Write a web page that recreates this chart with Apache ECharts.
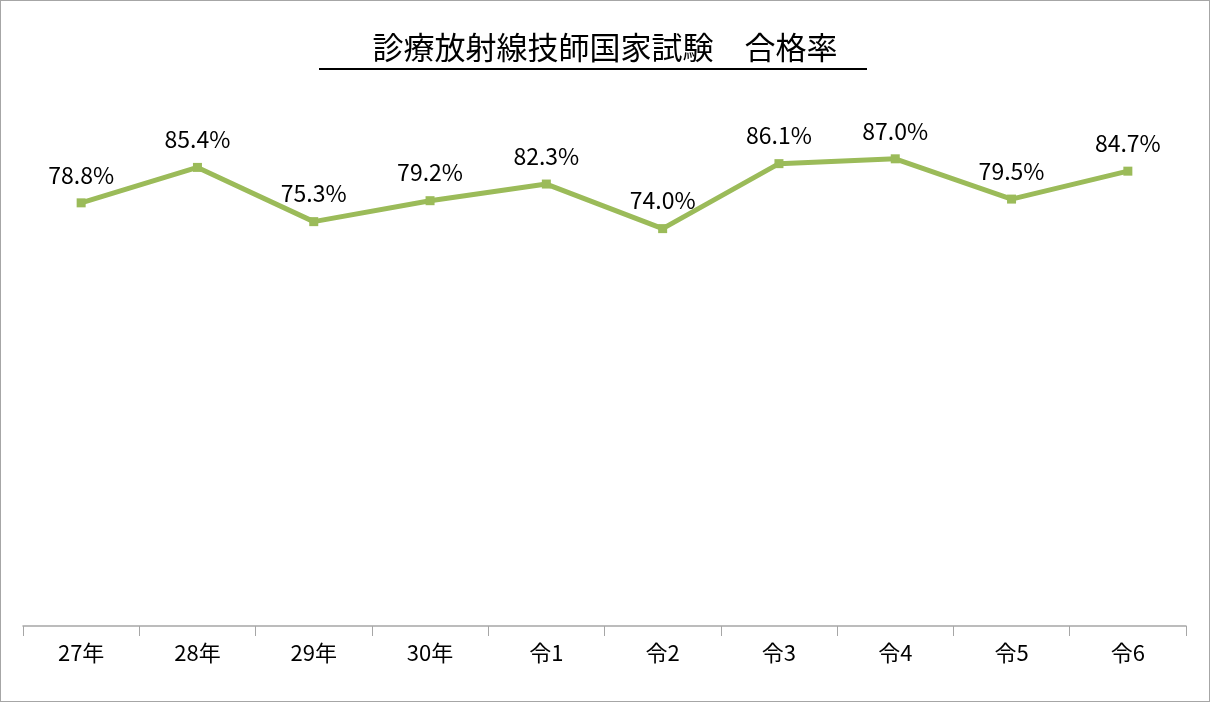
<!DOCTYPE html>
<html>
<head>
<meta charset="utf-8">
<script src="https://cdn.jsdelivr.net/npm/echarts@6/dist/echarts.min.js"></script>
<style>
  html, body { margin: 0; padding: 0; background: #fff; }
  #chart { width: 1210px; height: 702px; box-sizing: border-box; border: 1px solid #a6a6a6; }
</style>
</head>
<body>
<div id="chart"></div>
<script>
    // data
    const categories = ['27年', '28年', '29年', '30年', '令1', '令2', '令3', '令4', '令5', '令6']
    const passRate = [78.8, 85.4, 75.3, 79.2, 82.3, 74.0, 86.1, 87.0, 79.5, 84.7]

    let myChart = echarts.init(document.getElementById('chart'))
    let font = '"Noto Sans CJK JP", sans-serif'

    let option = {
        animation: false,
        title: {
            text: '診療放射線技師国家試験　合格率',
            left: 'center',
            top: 26,
            textStyle: { fontFamily: font, fontSize: 31, fontWeight: 'normal', color: '#000' }
        },
        graphic: [{
            type: 'rect',
            shape: { x: 318, y: 67, width: 548, height: 2 },
            style: { fill: '#000' }
        }],
        grid: { left: 22, right: 23, top: 88, bottom: 75 },
        xAxis: {
            type: 'category',
            data: categories,
            boundaryGap: true,
            axisLine: { lineStyle: { color: '#a6a6a6', width: 1.5 } },
            axisTick: { show: true, length: 10, inside: false, lineStyle: { color: '#a6a6a6' } },
            axisLabel: { fontFamily: font, fontSize: 22, color: '#000', margin: 16 }
        },
        yAxis: {
            type: 'value',
            min: 0,
            max: 100,
            show: false,
            splitLine: { show: false }
        },
        series: [{
            type: 'line',
            data: passRate,
            symbol: 'rect',
            symbolSize: 9,
            lineStyle: { color: '#9bbb59', width: 5 },
            itemStyle: { color: '#9bbb59' },
            label: {
                show: true,
                position: 'top',
                distance: 12,
                formatter: p => p.value.toFixed(1) + '%',
                fontFamily: font,
                fontSize: 23,
                color: '#000'
            }
        }]
    }

    myChart.setOption(option)
</script>
</body>
</html>
